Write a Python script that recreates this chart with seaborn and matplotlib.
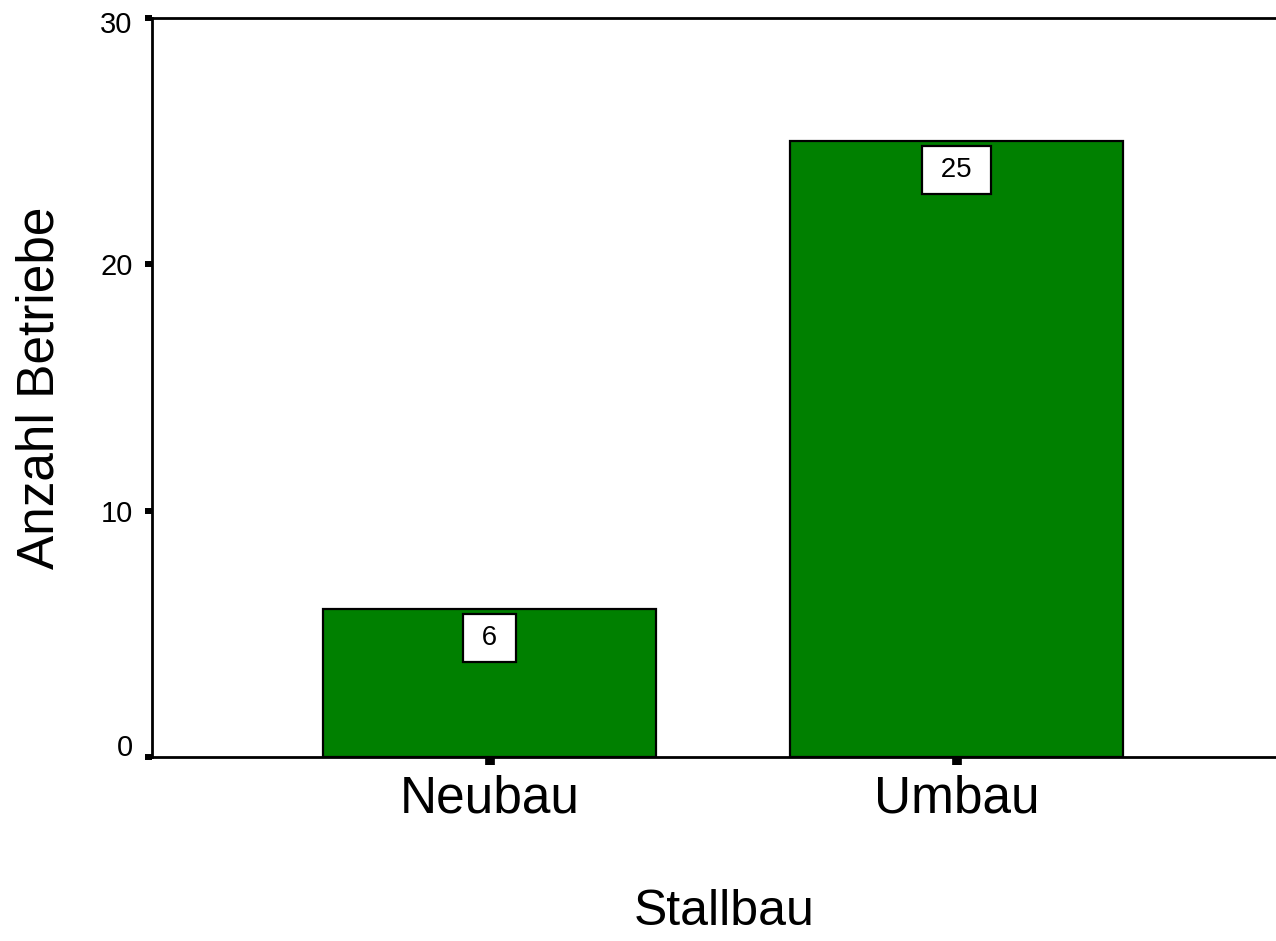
import matplotlib
matplotlib.use("Agg")
import matplotlib.pyplot as plt
import matplotlib.transforms as mtransforms
import seaborn as sns

# Daten
kategorien = ["Neubau", "Umbau"]
anzahl = [6, 25]
y_ticks = [0, 10, 20, 30]

sns.set_style("ticks")
plt.rcParams['font.family'] = ['Liberation Sans', 'DejaVu Sans']
plt.rcParams['text.color'] = "black"
plt.rcParams['axes.labelcolor'] = "black"
plt.rcParams['xtick.color'] = "black"
plt.rcParams['ytick.color'] = "black"

fig = plt.figure(figsize=(12.76, 9.41), dpi=100)
ax = fig.add_axes([0.1191, 0.1955, 0.8809, 0.7853])

sns.barplot(x=kategorien, y=anzahl, color="#008000", saturation=1,
            edgecolor="black", linewidth=1.6, width=0.713, ax=ax)

ax.set_xlim(-0.7227, 1.684)
ax.set_ylim(0, 30)
ax.set_yticks(y_ticks)

# Achsen / Rahmen
for s in ["left", "top", "bottom"]:
    ax.spines[s].set_linewidth(2.0)
    ax.spines[s].set_color("black")
ax.spines["right"].set_visible(False)

ax.tick_params(axis="y", direction="out", length=5, width=4.3, pad=9,
               labelsize=21, colors="black")
ax.tick_params(axis="x", direction="out", length=5.8, width=7, pad=7,
               labelsize=37, colors="black")

ax.set_ylabel("Anzahl Betriebe", fontsize=37, labelpad=26)
ax.set_xlabel("Stallbau", fontsize=36, labelpad=47, x=0.509)

# Beschriftung "0" etwas nach oben, "30" etwas nach unten
labels = ax.get_yticklabels()
labels[0].set_transform(labels[0].get_transform() +
                        mtransforms.ScaledTranslation(0, 12 / 100, fig.dpi_scale_trans))
labels[-1].set_transform(labels[-1].get_transform() +
                         mtransforms.ScaledTranslation(0, -4 / 100, fig.dpi_scale_trans))

# Werte in Kästchen
for p, v in zip(ax.patches, anzahl):
    ax.annotate(f" {v} ", xy=(p.get_x() + p.get_width() / 2, p.get_height()),
                xytext=(0, -28.5), textcoords="offset pixels",
                ha="center", va="center", fontsize=20, color="black",
                bbox=dict(boxstyle="square,pad=0.4", fc="white", ec="black", lw=1.6))

plt.savefig("out.png", dpi=100)
